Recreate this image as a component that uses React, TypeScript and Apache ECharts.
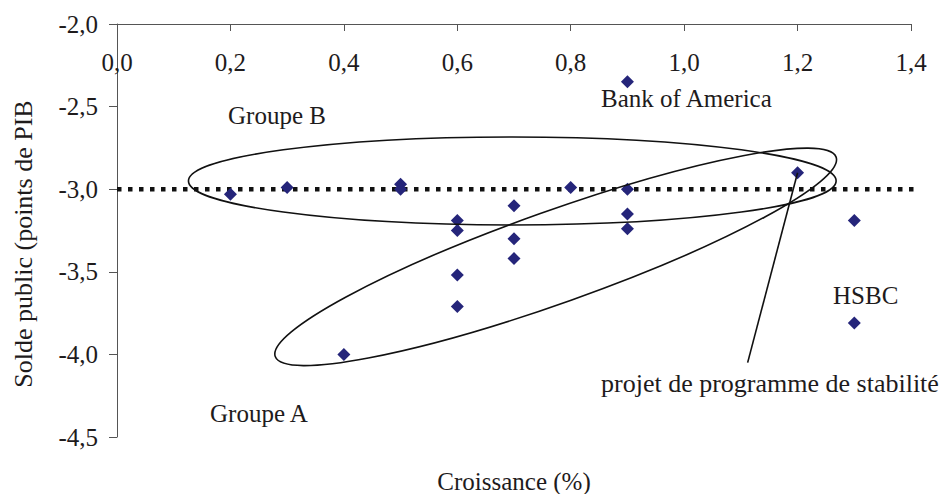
import React, { useEffect, useRef } from "react";
import * as echarts from "echarts";

// ---- Data ----
const growth = [0.2, 0.3, 0.5, 0.5, 0.6, 0.6, 0.6, 0.6, 0.4, 0.7, 0.7, 0.7, 0.8, 0.9, 0.9, 0.9, 0.9, 1.2, 1.3, 1.3];
const balance = [-3.03, -2.99, -2.97, -3.0, -3.19, -3.25, -3.52, -3.71, -4.0, -3.1, -3.3, -3.42, -2.99, -2.35, -3.0, -3.15, -3.24, -2.9, -3.19, -3.81];
const thresholdLevel = -3.0;
const thresholdSpan = [0.0, 1.46];
const xTicks = { min: 0, max: 1.4, interval: 0.2 };
const yTicks = { min: -4.5, max: -2.0, interval: 0.5 };

// ---- Annotations (data coords) ----
const ellipseA = { from: [0.279, -4.014], to: [1.268, -2.805], minorPx: 46 };
const ellipseB = { from: [0.126, -2.95], to: [1.268, -2.95], minorPx: 44 };
const leader = { from: [1.2, -2.9], to: [1.112, -4.05] };

const FONT = "Liberation Serif";
const TEXT = "#1e1b1c";

const labels = [
  { text: "Groupe B", x: 228, y: 115, size: 25 },
  { text: "Bank of America", x: 601, y: 98, size: 25 },
  { text: "HSBC", x: 833, y: 295, size: 25 },
  { text: "projet de programme de stabilité", x: 601, y: 383, size: 26 },
  { text: "Groupe A", x: 210, y: 413, size: 25 },
];

const fmt = (v: number) => v.toFixed(1).replace(".", ",");

export default function App() {
  const ref = useRef<HTMLDivElement>(null);
  useEffect(() => {
    if (!ref.current) return;
    const chart = echarts.init(ref.current, null, { renderer: "svg" });
    const points = growth.map((g, i) => [g, balance[i]]);
    chart.setOption({
      animation: false,
      textStyle: { fontFamily: FONT },
      grid: { left: 117, top: 24, right: 32, bottom: 57 },
      xAxis: {
        type: "value",
        position: "top",
        min: xTicks.min,
        max: xTicks.max,
        interval: xTicks.interval,
        axisLine: { show: true, lineStyle: { color: "#555", width: 1 } },
        axisTick: { show: true, inside: true, length: 7, lineStyle: { color: "#555" } },
        axisLabel: {
          inside: true,
          margin: 26,
          formatter: fmt,
          fontFamily: FONT,
          fontSize: 25,
          color: TEXT,
        },
        splitLine: { show: false },
      },
      yAxis: {
        type: "value",
        min: yTicks.min,
        max: yTicks.max,
        interval: yTicks.interval,
        axisLine: { show: true, lineStyle: { color: "#555", width: 1 } },
        axisTick: { show: true, inside: false, length: 8, lineStyle: { color: "#555" } },
        axisLabel: {
          margin: 19,
          formatter: fmt,
          fontFamily: FONT,
          fontSize: 25,
          color: TEXT,
        },
        splitLine: { show: false },
      },
      series: [
        {
          type: "line",
          data: thresholdSpan.map((x) => [x, thresholdLevel]),
          clip: false,
          symbol: "none",
          silent: true,
          lineStyle: { color: "#111", width: 4.5, type: [4.5, 6.5], cap: "butt" },
          z: 1,
        },
        {
          type: "scatter",
          data: points,
          symbol: "diamond",
          symbolSize: [13, 13],
          itemStyle: { color: "#25257a", opacity: 1 },
          z: 3,
        },
      ],
    });

    const px = (p: number[]) => chart.convertToPixel({ gridIndex: 0 }, p) as number[];
    const ell = (e: { from: number[]; to: number[]; minorPx: number }) => {
      const a = px(e.from);
      const b = px(e.to);
      const cx = (a[0] + b[0]) / 2;
      const cy = (a[1] + b[1]) / 2;
      const rx = Math.hypot(b[0] - a[0], b[1] - a[1]) / 2;
      const rot = Math.atan2(-(b[1] - a[1]), b[0] - a[0]);
      return {
        type: "ellipse",
        x: cx,
        y: cy,
        rotation: rot,
        shape: { cx: 0, cy: 0, rx, ry: e.minorPx },
        style: { fill: "none", stroke: "#111", lineWidth: 1.6 },
        z: 5,
      };
    };
    const l1 = px(leader.from);
    const l2 = px(leader.to);
    chart.setOption({
      graphic: [
        ell(ellipseB),
        ell(ellipseA),
        {
          type: "line",
          shape: { x1: l1[0], y1: l1[1], x2: l2[0], y2: l2[1] },
          style: { stroke: "#111", lineWidth: 1.6 },
          z: 5,
        },
        ...labels.map((l) => ({
          type: "text",
          x: l.x,
          y: l.y,
          style: {
            text: l.text,
            fontFamily: FONT,
            fontSize: l.size,
            fill: TEXT,
            align: "left",
            verticalAlign: "middle",
          },
          z: 6,
        })),
        {
          type: "text",
          x: 514,
          y: 481,
          style: {
            text: "Croissance (%)",
            fontFamily: FONT,
            fontSize: 25,
            fill: TEXT,
            align: "center",
            verticalAlign: "middle",
          },
        },
        {
          type: "text",
          x: 23,
          y: 244,
          rotation: Math.PI / 2,
          style: {
            text: "Solde public (points de PIB",
            fontFamily: FONT,
            fontSize: 26,
            fill: TEXT,
            align: "center",
            verticalAlign: "middle",
          },
        },
      ],
    });
    return () => chart.dispose();
  }, []);
  return (
    <div
      ref={ref}
      style={{ position: "fixed", left: 0, top: 0, width: 943, height: 494, background: "#fff" }}
    />
  );
}
